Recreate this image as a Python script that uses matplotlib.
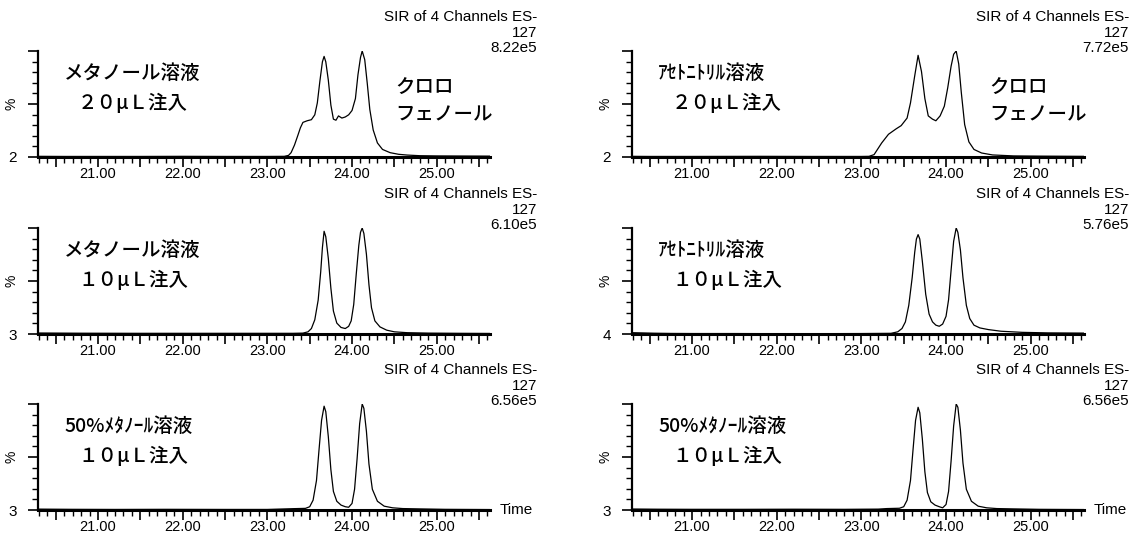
import matplotlib
matplotlib.use('Agg')
import matplotlib.pyplot as plt

# retention time (min) and intensity (%)
t_meoh20 = [20.29, 20.6, 21.0, 21.5, 22.0, 22.5, 23.0, 23.2, 23.25, 23.28,
            23.32, 23.36, 23.39, 23.42, 23.47, 23.52, 23.56, 23.59, 23.62, 23.65,
            23.67, 23.69, 23.72, 23.75, 23.78, 23.81, 23.84, 23.88, 23.92, 23.96,
            24.00, 24.04, 24.07, 24.10, 24.12, 24.15, 24.18, 24.21, 24.25, 24.30,
            24.36, 24.45, 24.55, 24.65, 24.8, 25.0, 25.3, 25.63]
i_meoh20 = [2.6, 2.5, 2.5, 2.5, 2.6, 2.5, 2.5, 2.6, 3.5, 6,
            13, 22, 29, 34, 35.5, 36.5, 41, 52, 72, 90,
            95, 90, 73, 50, 37, 36, 40, 38, 39, 41,
            45, 56, 78, 94, 100, 92, 70, 46, 27, 15,
            9, 6, 4.5, 3.8, 3.2, 3.0, 2.9, 2.8]

t_meoh10 = [20.29, 20.8, 21.5, 22.5, 23.3, 23.42, 23.48, 23.52, 23.56, 23.60,
            23.63, 23.65, 23.67, 23.69, 23.72, 23.75, 23.78, 23.82, 23.87, 23.92,
            23.96, 23.99, 24.02, 24.05, 24.08, 24.10, 24.12, 24.14, 24.17, 24.20,
            24.23, 24.27, 24.33, 24.41, 24.50, 24.65, 24.9, 25.3, 25.63]
i_meoh10 = [3.9, 3.7, 3.6, 3.6, 3.6, 3.8, 5, 8, 16, 34,
            60, 82, 97, 92, 72, 45, 24, 13, 9, 8,
            10, 15, 30, 58, 84, 96, 100, 95, 76, 48,
            27, 15, 9.5, 6.5, 5, 4.2, 3.8, 3.6, 3.5]

t_meoh50_l = [20.29, 20.7, 21.2, 21.8, 22.5, 23.0, 23.3, 23.45, 23.50, 23.54,
              23.58, 23.61, 23.64, 23.67, 23.69, 23.72, 23.75, 23.78, 23.82, 23.87,
              23.92, 23.96, 24.00, 24.03, 24.06, 24.09, 24.12, 24.14, 24.17, 24.20,
              24.24, 24.30, 24.38, 24.48, 24.6, 24.8, 25.1, 25.63]
i_meoh50_l = [3.8, 3.6, 3.5, 3.6, 3.5, 3.5, 4.2, 4.5, 6, 12,
              30, 58, 85, 98, 93, 70, 40, 20, 11, 7.5,
              6, 5.5, 9, 22, 50, 82, 100, 96, 75, 45,
              22, 11, 6.5, 5, 4.3, 4.0, 3.6, 3.4]

t_acn20 = [20.28, 20.5, 21.0, 21.8, 22.4, 23.0, 23.09, 23.15, 23.24, 23.32,
           23.41, 23.47, 23.54, 23.58, 23.63, 23.67, 23.71, 23.75, 23.79, 23.84,
           23.88, 23.93, 23.98, 24.02, 24.06, 24.09, 24.12, 24.15, 24.18, 24.22,
           24.27, 24.33, 24.42, 24.55, 24.8, 25.1, 25.63]
i_acn20 = [2.6, 2.5, 2.5, 2.6, 2.5, 2.5, 2.6, 4.2, 15, 23,
           28, 31, 38, 52, 77, 96, 81, 56, 40, 37,
           35.5, 40, 49, 66, 86, 97, 100, 88, 62, 32,
           16, 9, 5.7, 3.9, 3.0, 2.8, 2.6]

t_acn10 = [20.28, 20.4, 20.55, 20.75, 21.0, 21.5, 22.0, 22.5, 23.0, 23.35,
           23.43, 23.48, 23.52, 23.56, 23.60, 23.63, 23.65, 23.67, 23.69, 23.72,
           23.76, 23.80, 23.84, 23.88, 23.92, 23.96, 24.00, 24.03, 24.06, 24.09,
           24.12, 24.14, 24.17, 24.20, 24.24, 24.28, 24.33, 24.40, 24.50, 24.65,
           24.9, 25.2, 25.63]
i_acn10 = [5.2, 5.0, 4.7, 4.5, 4.4, 4.4, 4.3, 4.3, 4.4, 4.6,
           6, 9, 15, 30, 55, 78, 90, 94, 90, 70,
           40, 22, 15, 12, 11, 13, 20, 35, 62, 88,
           100, 96, 80, 55, 30, 18, 12, 9.5, 8, 6.5,
           5.5, 5.0, 4.8]

t_meoh50_r = [20.28, 20.6, 21.0, 21.6, 22.2, 22.8, 23.2, 23.3, 23.45, 23.50,
              23.54, 23.58, 23.61, 23.64, 23.67, 23.69, 23.72, 23.75, 23.78, 23.82,
              23.87, 23.92, 23.96, 24.00, 24.03, 24.06, 24.09, 24.12, 24.14, 24.17,
              24.20, 24.24, 24.30, 24.38, 24.48, 24.6, 24.8, 25.1, 25.63]
i_meoh50_r = [3.9, 3.7, 3.6, 3.6, 3.7, 3.6, 3.8, 4.3, 4.6, 6,
              12, 30, 58, 85, 97, 92, 68, 38, 19, 10.5,
              7.5, 6, 5, 8, 20, 48, 80, 100, 97, 76,
              46, 22, 11, 6.5, 5, 4.3, 4.0, 3.6, 3.4]

base_pct = [2, 3, 3, 2, 4, 3]
scales = ['8.22e5', '6.10e5', '6.56e5', '7.72e5', '5.76e5', '6.56e5']
solvents = ['メタノール溶液', 'メタノール溶液', '50%ﾒﾀﾉｰﾙ溶液',
            'ｱｾﾄﾆﾄﾘﾙ溶液', 'ｱｾﾄﾆﾄﾘﾙ溶液', '50%ﾒﾀﾉｰﾙ溶液']
volumes = ['２０μＬ注入', '１０μＬ注入', '１０μＬ注入',
           '２０μＬ注入', '１０μＬ注入', '１０μＬ注入']
x_labels = ['21.00', '22.00', '23.00', '24.00', '25.00']

W, H = 1131, 535
JP = ['Noto Sans CJK JP', 'DejaVu Sans']
LAT = ['Liberation Sans', 'DejaVu Sans']


def fx(px):
    return px / W


def fy(py):
    return 1 - py / H


def draw_panel(fig, left, right, axis_y, t, inten, base, scale, solvent, volume,
               show_compound, show_time, col):
    ax = fig.add_axes([fx(left), fy(axis_y), fx(right - left), 106 / H])
    ax.plot(t, inten, color='black', lw=0.9)
    ax.set_xlim(20.29, 25.63)
    ax.set_ylim(base, 100)
    ax.spines['top'].set_visible(False)
    ax.spines['right'].set_visible(False)
    ax.spines['bottom'].set_linewidth(2.2)
    ax.spines['left'].set_linewidth(1.6)

    majors = [20.5 + 0.5 * k for k in range(11)]
    labs = [x_labels[int(m) - 21] if m == int(m) else '' for m in majors]
    ax.set_xticks(majors, labs)
    ax.set_xticks([20.3 + 0.1 * k for k in range(54)], minor=True)
    ax.tick_params(axis='x', which='major', length=7, width=1.2, pad=0,
                   labelsize=10.5)
    ax.tick_params(axis='x', which='minor', length=4, width=1.0)
    ax.set_yticks([base, (base + 100) / 2, 100], [str(base), '', ''])
    ax.set_yticks([base + k * (100 - base) / 10 for k in range(1, 10)], minor=True)
    ax.tick_params(axis='y', which='major', length=7, width=1.2, pad=8,
                   labelsize=11)
    ax.tick_params(axis='y', which='minor', length=4, width=1.0)
    for lab in ax.get_xticklabels() + ax.get_yticklabels():
        lab.set_family(LAT)
    ax.text(-0.058, 0.5, '%', rotation=90, transform=ax.transAxes,
            ha='center', va='center', fontsize=10, family=LAT)

    # header block
    hx = 537 if col == 0 else 1129
    top = axis_y - 106
    fig.text(fx(hx), fy(top - 34), 'SIR of 4 Channels ES-', ha='right',
             va='center', fontsize=11, family=LAT)
    fig.text(fx(hx), fy(top - 18), '127', ha='right', va='center',
             fontsize=11, family=LAT)
    fig.text(fx(hx), fy(top - 3), scale, ha='right', va='center',
             fontsize=11, family=LAT)

    # sample labels
    fig.text(fx(left + 26), fy(top + 22), solvent, ha='left', va='center',
             fontsize=14, family=JP, weight='medium')
    fig.text(fx(left + 40), fy(top + 52), volume, ha='left', va='center',
             fontsize=14, family=JP, weight='medium')
    if show_compound:
        fig.text(fx(left + 357), fy(top + 37), 'クロロ', ha='left',
                 va='center', fontsize=14, family=JP, weight='medium')
        fig.text(fx(left + 357), fy(top + 64), 'フェノール', ha='left',
                 va='center', fontsize=14, family=JP, weight='medium')
    if show_time:
        fig.text(fx(right + 10), fy(axis_y), 'Time', ha='left', va='center',
                 fontsize=11, family=LAT)


def plot_chromatograms():
    fig = plt.figure(figsize=(W / 100, H / 100), dpi=100)
    traces = [(t_meoh20, i_meoh20), (t_meoh10, i_meoh10), (t_meoh50_l, i_meoh50_l),
              (t_acn20, i_acn20), (t_acn10, i_acn10), (t_meoh50_r, i_meoh50_r)]
    axis_rows = [157, 334, 510]
    cols = [(38, 490), (632, 1084)]
    for n, (t, inten) in enumerate(traces):
        col, row = divmod(n, 3)
        left, right = cols[col]
        draw_panel(fig, left, right, axis_rows[row], t, inten, base_pct[n],
                   scales[n], solvents[n], volumes[n], row == 0, row == 2, col)
    fig.savefig('out.png', dpi=100)


if __name__ == '__main__':
    plot_chromatograms()
